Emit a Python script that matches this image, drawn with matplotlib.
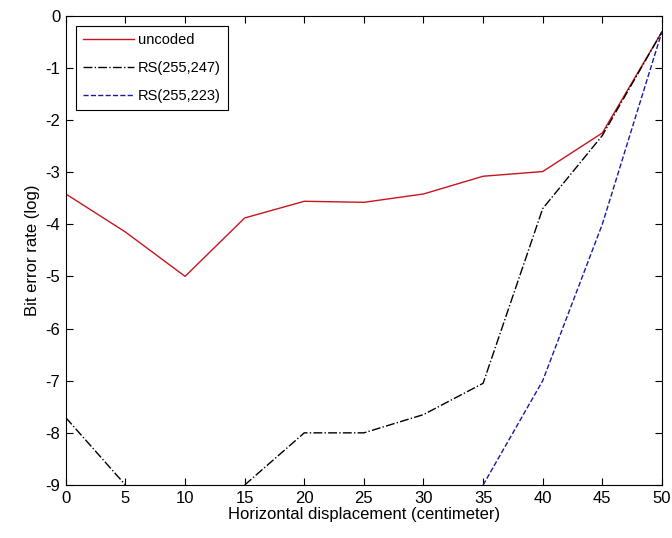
import numpy as np
import matplotlib.pyplot as plt

plt.rcParams['font.family'] = ['Liberation Sans', 'DejaVu Sans']
plt.rcParams['axes.unicode_minus'] = False

# 水平位移 (cm)
displacement = [0, 5, 10, 15, 20, 25, 30, 35, 40, 45, 50]

# 誤碼率 (log)
uncoded = [-3.42, -4.15, -5.0, -3.88, -3.56, -3.58, -3.42, -3.08, -2.99, -2.25, -0.31]
rs_247 = [-7.71, -9.0, np.nan, -9.0, -8.0, -8.0, -7.65, -7.05, -3.7, -2.3, -0.31]
rs_223 = [np.nan, np.nan, np.nan, np.nan, np.nan, np.nan, np.nan, -9.0, -7.0, -4.0, -0.31]

fig = plt.figure(figsize=(6.72, 5.38), dpi=100)
ax = fig.add_axes([0.098, 0.0985, 0.887, 0.8725])

ax.plot(displacement, uncoded, '-', color='#c8141e', lw=1.0, label='uncoded')
ax.plot(displacement, rs_247, '-.', color='black', lw=1.0, label='RS(255,247)')
ax.plot(displacement, rs_223, '--', color='#1a1aa0', lw=1.0, label='RS(255,223)')

ax.set_xlim(0, 50)
ax.set_ylim(-9, 0)
ax.set_xticks(range(0, 51, 5))
ax.set_yticks(range(-9, 1))
ax.tick_params(direction='in', top=True, right=True, length=5, labelsize=12, pad=4)
for s in ax.spines.values():
    s.set_linewidth(0.8)

ax.set_xlabel('Horizontal displacement (centimeter)', fontsize=12, labelpad=1)
ax.set_ylabel('Bit error rate (log)', fontsize=12, labelpad=4)

leg = ax.legend(loc='upper left', fontsize=10.5, handlelength=3.5, handletextpad=0.25,
                borderpad=0.5, labelspacing=0.95, fancybox=False, framealpha=1,
                edgecolor='black', borderaxespad=0.7)
leg.get_frame().set_linewidth(0.8)

fig.savefig('out.png', dpi=100)
